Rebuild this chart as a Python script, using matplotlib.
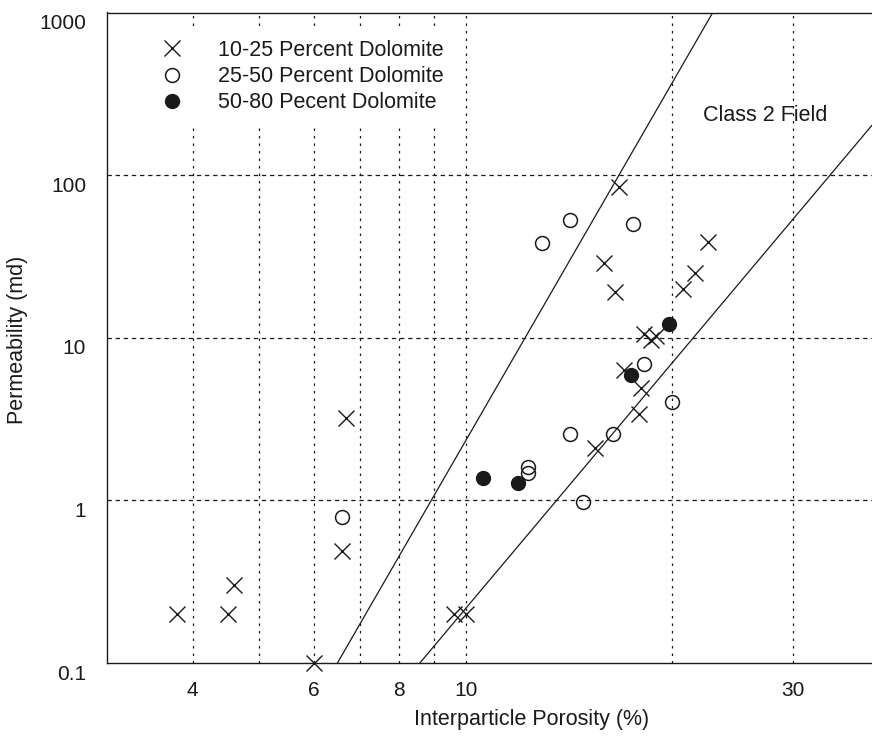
import matplotlib
matplotlib.use('Agg')
import matplotlib.pyplot as plt
import matplotlib.transforms as mtransforms

plt.rcParams['font.family'] = ['Liberation Sans', 'DejaVu Sans']

# 10-25 percent dolomite (x)
x_low = [3.8, 4.5, 4.6, 6.0, 6.6, 6.7, 9.6, 10.0, 15.4, 15.9, 16.5, 16.7, 17.0,
         17.9, 18.0, 18.2, 18.6, 18.9, 20.7, 21.6, 22.5]
y_low = [0.2, 0.2, 0.3, 0.1, 0.49, 3.2, 0.2, 0.2, 2.1, 29, 19, 85, 6.3,
         3.4, 4.9, 10.5, 9.7, 10.2, 20, 25, 39]
# 25-50 percent dolomite (open circles)
x_mid = [6.6, 12.3, 12.3, 12.9, 14.2, 14.2, 14.8, 16.4, 17.5, 18.2, 20.0]
y_mid = [0.79, 1.6, 1.47, 38, 53, 2.55, 0.98, 2.55, 50, 6.9, 4.0]
# 50-80 percent dolomite (filled circles)
x_high = [10.6, 11.9, 17.4, 19.8]
y_high = [1.37, 1.28, 5.9, 12.1]

# class field boundary lines (endpoints)
line1_x = [6.5, 22.9]
line1_y = [0.1, 1000]
line2_x = [8.57, 40]
line2_y = [0.1, 228]

xgrid = [4, 5, 6, 7, 8, 9, 10, 20, 30]
ygrid = [1, 10, 100]
xticks = [4, 6, 8, 10, 30]
yticks = [0.1, 1, 10, 100, 1000]
ytick_labels = ['0.1', '1', '10', '100', '1000']

ink = '#1a1a1a'
fs = 15.5
tfs = 15

fig = plt.figure(figsize=(8.72, 7.38), dpi=100)
ax = fig.add_axes([107/872, 1-663/738, 765/872, 650.5/738])
ax.set_xscale('log')
ax.set_yscale('log')
ax.set_xlim(3, 39.07)
ax.set_ylim(0.1, 1000)

for gx in xgrid:
    ax.axvline(gx, color=ink, lw=0.9, linestyle=(0, (2, 4)), zorder=1)
for gy in ygrid:
    ax.axhline(gy, color=ink, lw=0.9, linestyle=(0, (3.5, 3)), zorder=1)

ax.plot(line1_x, line1_y, color=ink, lw=0.9, zorder=2)
ax.plot(line2_x, line2_y, color=ink, lw=0.9, zorder=2)

ax.plot(x_low, y_low, 'x', ms=12, mew=1.0, color=ink, zorder=3, clip_on=False,
        label='10-25 Percent Dolomite')
ax.plot(x_mid, y_mid, 'o', ms=10, mew=1.1, mfc='none', mec=ink, zorder=3,
        label='25-50 Percent Dolomite')
ax.plot(x_high, y_high, 'o', ms=10, mew=1.0, mfc=ink, mec=ink, zorder=3,
        label='50-80 Pecent Dolomite')

ax.text(27.3, 234, 'Class 2 Field', fontsize=fs, color=ink, ha='center', va='center')

leg = ax.legend(loc='upper left', bbox_to_anchor=((151.6-107)/765, (663-30)/650.5),
                frameon=True, fancybox=False, edgecolor='white', facecolor='white',
                framealpha=1, fontsize=fs, handlelength=1.0, handletextpad=1.64,
                borderpad=0.45, labelspacing=0.25, borderaxespad=0)
for t in leg.get_texts():
    t.set_color(ink)
leg.set_zorder(4)

ax.set_xticks(xticks)
ax.set_xticklabels([str(v) for v in xticks])
ax.xaxis.set_minor_locator(matplotlib.ticker.NullLocator())
ax.set_yticks(yticks)
ax.set_yticklabels(ytick_labels)
ax.yaxis.set_minor_locator(matplotlib.ticker.NullLocator())
ax.tick_params(axis='both', length=0, labelsize=tfs, colors=ink)
ax.tick_params(axis='x', pad=13)
ax.tick_params(axis='y', pad=15)

# y labels sit a little under their grid lines in the original
off = mtransforms.ScaledTranslation(0, -0.09, fig.dpi_scale_trans)
for lab in ax.get_yticklabels():
    lab.set_transform(lab.get_transform() + off)

ax.spines['right'].set_visible(False)
for s in ['left', 'bottom', 'top']:
    ax.spines[s].set_color(ink)
    ax.spines[s].set_linewidth(1.0)

ax.set_xlabel('Interparticle Porosity (%)', fontsize=fs, color=ink)
ax.set_ylabel('Permeability (md)', fontsize=fs, color=ink)
ax.xaxis.set_label_coords((532-107)/765, (663-720)/650.5)
ax.yaxis.set_label_coords((18-107)/765, (663-340)/650.5)
ax.xaxis.label.set_va('center')
ax.yaxis.label.set_va('center')

fig.savefig('out.png', dpi=100)
